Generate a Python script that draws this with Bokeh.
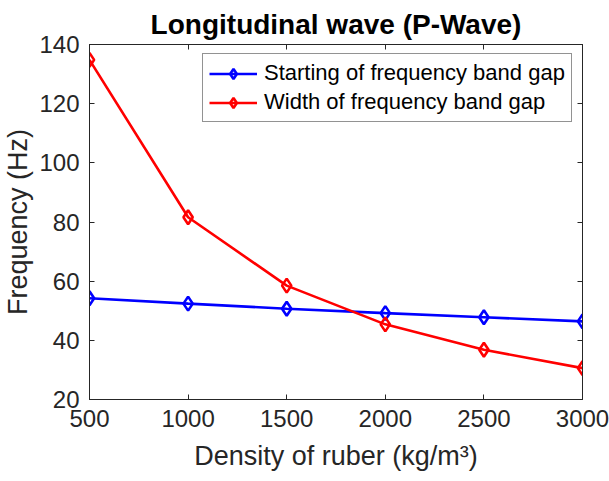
from bokeh.plotting import figure
from bokeh.models import LinearAxis, Range1d, Legend, LegendItem, FixedTicker
from bokeh.embed import file_html
from bokeh.resources import INLINE

# Rubber density (kg/m^3) and band-gap frequencies (Hz)
density = [500, 1000, 1500, 2000, 2500, 3000]
gap_start = [54.2, 52.4, 50.7, 49.2, 47.8, 46.4]
gap_width = [134.8, 81.6, 58.5, 45.4, 36.8, 30.6]

x_ticks = [500, 1000, 1500, 2000, 2500, 3000]
y_ticks = [20, 40, 60, 80, 100, 120, 140]

FONT = "Liberation Sans"
AX = "#262626"

p = figure(width=609, height=481, output_backend="svg", toolbar_location=None,
           x_range=Range1d(500, 3000), y_range=Range1d(20, 140),
           min_border_left=89, min_border_right=27, min_border_top=44, min_border_bottom=82)
p.title.text = "Longitudinal wave (P-Wave)"
p.title.align = "center"
p.title.text_font = FONT
p.title.text_font_size = "28px"
p.title.text_font_style = "bold"
p.title.text_color = "black"
p.title.offset = 0
p.grid.visible = False
p.outline_line_color = AX
p.outline_line_width = 1
p.background_fill_color = "white"
p.border_fill_color = "white"

for ax in (p.xaxis[0], p.yaxis[0]):
    ax.major_tick_in = 5
    ax.major_tick_out = 0
    ax.minor_tick_line_color = None
    ax.axis_line_color = AX
    ax.major_tick_line_color = AX
    ax.major_label_text_font = FONT
    ax.major_label_text_font_size = "24px"
    ax.major_label_text_color = AX
    ax.axis_label_text_font = FONT
    ax.axis_label_text_font_size = "27px"
    ax.axis_label_text_font_style = "normal"
    ax.axis_label_text_color = AX

p.xaxis[0].ticker = FixedTicker(ticks=x_ticks)
p.yaxis[0].ticker = FixedTicker(ticks=y_ticks)
p.xaxis[0].axis_label = "Density of ruber (kg/m³)"
p.yaxis[0].axis_label = "Frequency (Hz)"
p.xaxis[0].major_label_standoff = 10
p.yaxis[0].major_label_standoff = 10
p.xaxis[0].axis_label_standoff = 11
p.yaxis[0].axis_label_standoff = 3

# Mirror ticks on the top and right edges of the box
top = LinearAxis(ticker=FixedTicker(ticks=x_ticks), major_label_text_color=None,
                 major_tick_in=5, major_tick_out=0, minor_tick_line_color=None,
                 axis_line_color=AX, major_tick_line_color=AX, major_label_standoff=0)
right = LinearAxis(ticker=FixedTicker(ticks=y_ticks), major_label_text_color=None,
                   major_tick_in=5, major_tick_out=0, minor_tick_line_color=None,
                   axis_line_color=AX, major_tick_line_color=AX, major_label_standoff=0)
p.add_layout(top, "above")
p.add_layout(right, "right")

l1 = p.line(density, gap_start, line_color="blue", line_width=2.6)
m1 = p.scatter(density, gap_start, marker="diamond", size=14, line_color="blue",
               line_width=2.6, fill_color=None)
l2 = p.line(density, gap_width, line_color="red", line_width=2.6)
m2 = p.scatter(density, gap_width, marker="diamond", size=14, line_color="red",
               line_width=2.6, fill_color=None)

legend = Legend(items=[
    LegendItem(label="Starting of frequency band gap", renderers=[l1, m1]),
    LegendItem(label="Width of frequency band gap", renderers=[l2, m2]),
], location=(113, 277))
legend.label_text_font = FONT
legend.label_text_font_size = "22px"
legend.label_text_color = "black"
legend.glyph_width = 48
legend.glyph_height = 25
legend.label_height = 25
legend.label_standoff = 7
legend.spacing = 3
legend.padding = 6
legend.margin = 0
legend.border_line_color = AX
legend.border_line_width = 1
legend.background_fill_color = "white"
legend.background_fill_alpha = 1
p.add_layout(legend, "center")

open("out.html", "w").write(file_html(p, INLINE))
